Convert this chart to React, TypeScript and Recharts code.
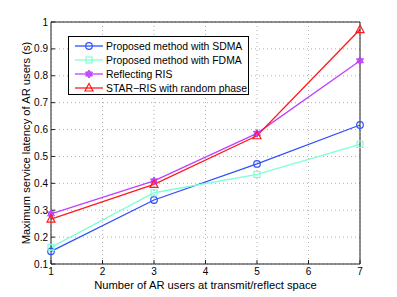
import React from 'react';
import { LineChart, Line, XAxis, YAxis, CartesianGrid } from 'recharts';

const users = [1, 3, 5, 7];
const sdma = [0.147, 0.338, 0.472, 0.617];
const fdma = [0.162, 0.365, 0.433, 0.545];
const reflecting = [0.286, 0.409, 0.586, 0.856];
const randomPhase = [0.267, 0.396, 0.577, 0.972];

const xTicks = [1, 2, 3, 4, 5, 6, 7];
const yTicks = [0.1, 0.2, 0.3, 0.4, 0.5, 0.6, 0.7, 0.8, 0.9, 1];

const seriesNames = [
  'Proposed method with SDMA',
  'Proposed method with FDMA',
  'Reflecting RIS',
  'STAR\u2212RIS with random phase',
];
const seriesKeys = ['sdma', 'fdma', 'reflecting', 'randomPhase'];
const seriesColors = ['#2f4fff', '#7fffd4', '#bf40ff', '#ff1a1a'];
const seriesMarkers = ['circle', 'square', 'hexagram', 'triangle'];

const data = users.map((u, i) => ({
  users: u,
  sdma: sdma[i],
  fdma: fdma[i],
  reflecting: reflecting[i],
  randomPhase: randomPhase[i],
}));

const FONT = '"Liberation Sans", Arial, sans-serif';

function marker(kind: string, cx: number, cy: number, color: string, key?: any) {
  if (kind === 'circle') {
    return <circle key={key} cx={cx} cy={cy} r={3.3} fill="none" stroke={color} strokeWidth={1.2} />;
  }
  if (kind === 'square') {
    return <rect key={key} x={cx - 3} y={cy - 3} width={6} height={6} fill="none" stroke={color} strokeWidth={1.2} />;
  }
  if (kind === 'triangle') {
    const d = `M${cx},${cy - 4.5} L${cx + 4},${cy + 3} L${cx - 4},${cy + 3} Z`;
    return <path key={key} d={d} fill="none" stroke={color} strokeWidth={1.2} />;
  }
  const r = 4;
  const t1 = [0, 1, 2].map((k) => {
    const a = -Math.PI / 2 + (k * 2 * Math.PI) / 3;
    return `${cx + r * Math.cos(a)},${cy + r * Math.sin(a)}`;
  });
  const t2 = [0, 1, 2].map((k) => {
    const a = Math.PI / 2 + (k * 2 * Math.PI) / 3;
    return `${cx + r * Math.cos(a)},${cy + r * Math.sin(a)}`;
  });
  return (
    <g key={key}>
      <polygon points={t1.join(' ')} fill={color} fillOpacity={0.5} stroke={color} strokeWidth={1} />
      <polygon points={t2.join(' ')} fill={color} fillOpacity={0.5} stroke={color} strokeWidth={1} />
    </g>
  );
}

function ChartLegend() {
  return (
    <div
      style={{
        position: 'absolute',
        left: 68,
        top: 36,
        width: 179,
        height: 57,
        border: '1px solid #000',
        background: '#fff',
        fontFamily: FONT,
        fontSize: 10.4,
      }}
    >
      {seriesNames.map((name, i) => (
        <div key={name} style={{ position: 'absolute', left: 0, top: 2 + i * 14, height: 14, display: 'flex', alignItems: 'center' }}>
          <svg width={37} height={14} style={{ display: 'block' }}>
            <line x1={6} x2={34} y1={7} y2={7} stroke={seriesColors[i]} strokeWidth={1.3} />
            {marker(seriesMarkers[i], 20, 7, seriesColors[i])}
          </svg>
          <span style={{ whiteSpace: 'nowrap', color: '#000' }}>{name}</span>
        </div>
      ))}
    </div>
  );
}

const tickStyle = { fontSize: 10, fontFamily: FONT, fill: '#000' };

export default function App() {
  return (
    <div style={{ position: 'absolute', left: 0, top: 0, width: 397, height: 297, background: '#fff' }}>
      <LineChart width={397} height={297} data={data} margin={{ top: 21, right: 36, bottom: 0, left: 0 }}>
        <CartesianGrid stroke="#b0b0b0" strokeDasharray="1 3" />
        <XAxis
          dataKey="users"
          type="number"
          domain={[1, 7]}
          ticks={xTicks}
          height={33}
          tickSize={-4}
          tickMargin={8}
          stroke="#222"
          tick={tickStyle}
          label={{ value: 'Number of AR users at transmit/reflect space', position: 'center', dy: 5, style: { fontSize: 11.2, fontFamily: FONT, fill: '#000' } }}
        />
        <XAxis xAxisId="top" orientation="top" dataKey="users" type="number" domain={[1, 7]} ticks={xTicks} height={1} tickSize={-4} tick={false} stroke="#222" />
        <YAxis
          type="number"
          domain={[0.1, 1]}
          ticks={yTicks}
          width={51}
          tickSize={-4}
          tickMargin={7}
          stroke="#222"
          tick={tickStyle}
          label={{ value: 'Maximum service latency of AR users (s)', angle: -90, position: 'center', dx: 1, style: { fontSize: 11.2, fontFamily: FONT, fill: '#000', textAnchor: 'middle' } }}
        />
        <YAxis yAxisId="right" orientation="right" type="number" domain={[0.1, 1]} ticks={yTicks} width={1} tickSize={-4} tick={false} stroke="#222" />
        {seriesKeys.map((k, i) => (
          <Line
            key={k}
            dataKey={k}
            name={seriesNames[i]}
            stroke={seriesColors[i]}
            strokeWidth={1.3}
            isAnimationActive={false}
            dot={(p: any) => marker(seriesMarkers[i], p.cx, p.cy, seriesColors[i], `${k}-${p.index}`)}
            activeDot={false}
          />
        ))}
      </LineChart>
      <ChartLegend />
    </div>
  );
}
